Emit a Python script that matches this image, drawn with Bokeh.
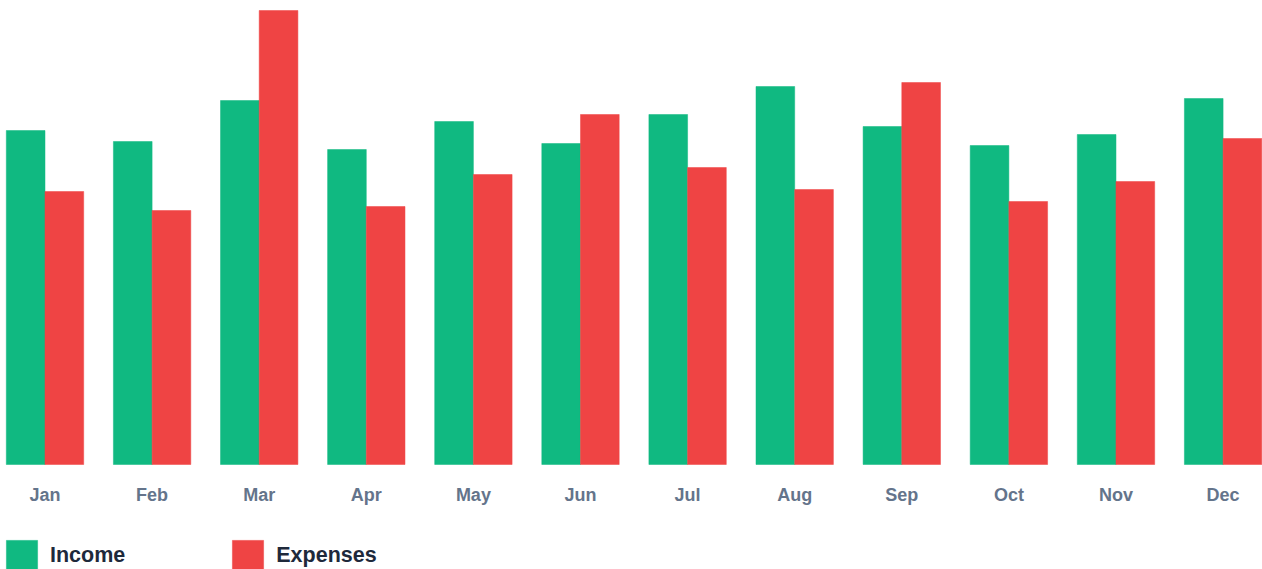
from bokeh.plotting import figure
from bokeh.models import Range1d, FixedTicker, Legend, LegendItem, ColumnDataSource
from bokeh.embed import file_html
from bokeh.resources import INLINE

months = ["Jan", "Feb", "Mar", "Apr", "May", "Jun", "Jul", "Aug", "Sep", "Oct", "Nov", "Dec"]
income = [6680, 6460, 7280, 6300, 6860, 6420, 7000, 7560, 6760, 6380, 6600, 7320]
expenses = [5460, 5080, 9080, 5160, 5800, 7000, 5940, 5500, 7640, 5260, 5660, 6520]

GREEN = "#10b981"
RED = "#ef4444"
BAR_W = 0.3613
idx = list(range(len(months)))

src = ColumnDataSource(dict(
    x_inc=[i - BAR_W / 2 for i in idx],
    x_exp=[i + BAR_W / 2 for i in idx],
    income=income,
    expenses=expenses,
))

p = figure(width=1262, height=575,
           x_range=Range1d(-0.4155, 11.368), y_range=Range1d(-2220, 9280),
           output_backend="svg", toolbar_location=None, y_axis_location=None,
           min_border=0, outline_line_color=None, background_fill_color="white",
           border_fill_color="white")
p.grid.visible = False

r_inc = p.vbar(x="x_inc", top="income", width=BAR_W, source=src, fill_color=GREEN,
               line_color=GREEN, line_width=0.5)
r_exp = p.vbar(x="x_exp", top="expenses", width=BAR_W, source=src, fill_color=RED,
               line_color=RED, line_width=0.5)

ax = p.xaxis[0]
ax.fixed_location = 0
ax.ticker = FixedTicker(ticks=idx)
ax.major_label_overrides = {i: m for i, m in zip(idx, months)}
ax.axis_line_color = None
ax.major_tick_line_color = None
ax.minor_tick_line_color = None
ax.major_tick_out = 0
ax.major_tick_in = 0
ax.minor_tick_out = 0
ax.major_label_standoff = 20
ax.major_label_text_font = "Liberation Sans"
ax.major_label_text_font_style = "bold"
ax.major_label_text_font_size = "18px"
ax.major_label_text_color = "#64748b"

legend = Legend(items=[LegendItem(label="Income", renderers=[r_inc]),
                       LegendItem(label="Expenses", renderers=[r_exp])],
                orientation="horizontal", location=(2, 0), margin=0, padding=0,
                glyph_width=39, glyph_height=39, label_standoff=9, spacing=103,
                border_line_color=None, background_fill_color=None,
                label_text_font="Liberation Sans", label_text_font_style="bold",
                label_text_font_size="21.5px", label_text_color="#1e293b")
p.add_layout(legend)

open("out.html", "w").write(file_html(p, INLINE))
